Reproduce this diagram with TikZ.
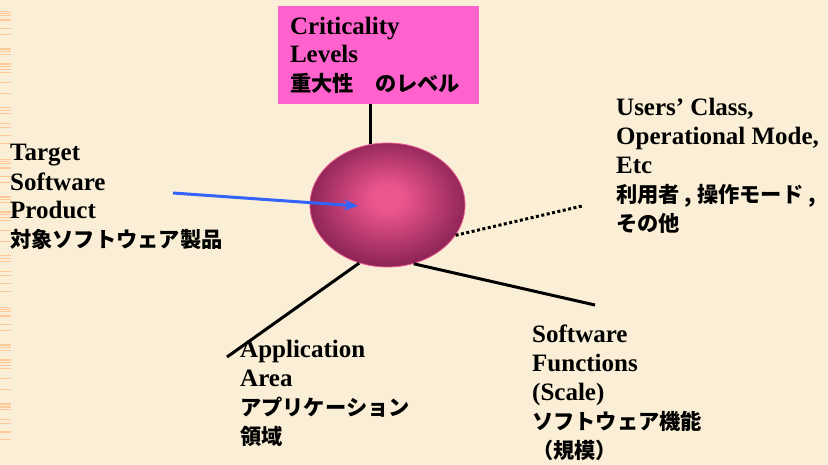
\documentclass[tikz,border=0pt]{standalone}
\usepackage{fontspec}
\setmainfont{Liberation Serif}
\newfontfamily\jp{Noto Sans CJK JP}[Scale=0.85]
\usetikzlibrary{arrows.meta,shapes.geometric}
\definecolor{parch}{RGB}{250,239,214}
\definecolor{stripe}{RGB}{255,200,150}
\definecolor{critpink}{RGB}{255,98,204}
\definecolor{ballin}{RGB}{236,86,142}
\definecolor{ballmid}{RGB}{150,40,92}
\definecolor{ballout}{RGB}{50,12,32}
\definecolor{arrowblue}{RGB}{50,100,250}
\pgfdeclareradialshading{ballshade}{\pgfpoint{0bp}{3bp}}{color(0bp)=(ballin); color(5bp)=(ballin); color(24bp)=(ballmid); color(44bp)=(ballout); color(50bp)=(ballout)}
\tikzset{
  lbl/.style={anchor=base west, align=left, inner sep=0pt, font=\fontsize{25}{29}\selectfont\bfseries},
  spoke/.style={line width=3pt},
}
\begin{document}
\begin{tikzpicture}[x=1pt,y=-1pt,>={Stealth[length=14pt,width=11pt]}]
    \fill[parch] (0,0) rectangle (828,465);
    \useasboundingbox (0,0) rectangle (828,465);
    \foreach \o in {0,148,296}
        \foreach \y/\w in {11/1.5,13/1.5,15/1,19/2,28/1.5,34/1,48/2,51/1,54/1,63/2,66/1,69/1,72/1,82/1,93/1,107/1.5,110/1.5,113/1,123/1,127/1,135/1.5,143/1}
            \fill[stripe] (0,\o+\y) rectangle (11,\o+\y+\w);

    \node[fill=critpink, minimum width=201pt, minimum height=98pt, inner xsep=12pt, align=left, text width=177pt,
          font=\fontsize{25}{28.5}\selectfont\bfseries] (crit) at (378.5,55)
        {Criticality\\Levels\\{\jp 重大性　のレベル}};
    \node[ellipse, minimum width=155pt, minimum height=124pt, inner sep=0pt, shading=ballshade,
          draw=ballin, line width=0.8pt] (ball) at (387.5,205) {};

    \node[lbl] (target) at (10,248) {Target\\Software\\Product\\{\jp 対象ソフトウェア製品}};
    \node[lbl] (users) at (616,232) {Users’ Class,\\Operational Mode,\\Etc\\{\jp 利用者 , 操作モード ,}\\{\jp その他}};
    \node[lbl] (appl) at (240,444) {Application\\Area\\{\jp アプリケーション}\\{\jp 領域}};
    \node[lbl] (func) at (532,458) {Software\\Functions\\(Scale)\\{\jp ソフトウェア機能}\\{\jp （規模）}};

    \coordinate (tail) at (173,193);
    \coordinate (hit) at (358,206);
    \coordinate (usrend) at (582,206);
    \coordinate (applend) at (227,357);
    \coordinate (funcend) at (595,305);

    \draw[spoke] (crit.south -| ball.106) -- (ball.106);
    \draw[spoke, dash pattern=on 3pt off 2.5pt] (ball.336) -- (usrend);
    \draw[spoke] (ball.244) -- (applend);
    \draw[spoke] (ball.294) -- (funcend);
    \draw[->, arrowblue, line width=3pt] (tail) -- (hit);
\end{tikzpicture}
\end{document}
